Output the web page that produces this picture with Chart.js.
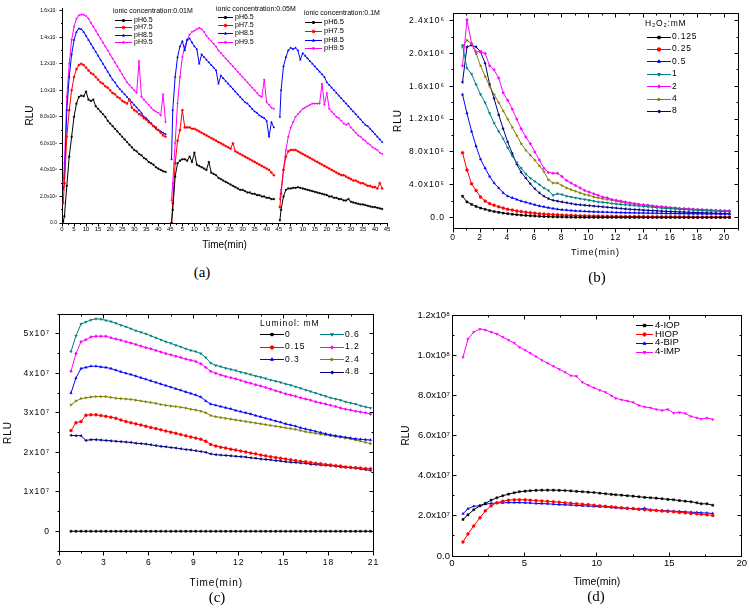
<!DOCTYPE html>
<html><head><meta charset="utf-8">
<script src="https://cdn.jsdelivr.net/npm/chart.js"></script>
<style>
html,body{margin:0;padding:0;background:#fff;width:749px;height:612px;overflow:hidden;position:relative}
canvas{position:absolute}
.cap{position:absolute;font-family:"Liberation Serif",serif;font-size:15px;transform:translate(-50%,-50%);color:#000;white-space:nowrap}
</style></head><body>
<canvas id="ca" width="400" height="262" style="left:0px;top:0px"></canvas>
<canvas id="cb" width="357" height="262" style="left:392px;top:0px"></canvas>
<canvas id="cc" width="385" height="290" style="left:2px;top:300px"></canvas>
<canvas id="cd" width="349" height="290" style="left:400px;top:300px"></canvas>
<div class="cap" style="left:202px;top:272px">(a)</div>
<div class="cap" style="left:597px;top:277px">(b)</div>
<div class="cap" style="left:217px;top:597px">(c)</div>
<div class="cap" style="left:596px;top:596px">(d)</div>
<script>
// ---------------- DATA ----------------
// (a) RLU in units of 1e7, three ionic concentrations
const ionicLabels = ['ionic concentration:0.01M','ionic concentration:0.05M','ionic concentration:0.1M'];
const phLabels = ['pH6.5','pH7.5','pH8.5','pH9.5'];
const aTime = [0.5,1,2,3,4,5,6,7,8,9,10,11,12,13,14,15,16,17,18,19,20,21,22,23,24,25,26,27,28,29,30,31,32,33,34,35,36,37,38,39,40,41,42,43];
const a01_ph65 = [0.01,0.05,0.28,0.5,0.65,0.8,0.9,0.95,0.96,0.955, 0.99,0.93,0.92,0.93,0.88,0.86,0.84,0.82,0.8,0.77, 0.75,0.73,0.71,0.69,0.67,0.65,0.63,0.61,0.59,0.57, 0.55,0.54,0.52,0.51,0.49,0.48,0.46,0.45,0.44,0.42, 0.41,0.4,0.39,0.385];
const a01_ph75 = [0.15,0.3,0.65,0.85,1.0,1.1,1.16,1.19,1.2,1.19, 1.17,1.15,1.13,1.12,1.1,1.08,1.06,1.05,1.03,1.02, 1.0,0.98,0.97,0.95,0.94,0.92,0.91,0.9,0.93,0.87, 0.85,0.84,0.82,0.81,0.79,0.78,0.76,0.75,0.73,0.72, 0.7,0.68,0.66,0.65];
const a01_ph85 = [0.25,0.3,0.85,1.1,1.27,1.38,1.44,1.465,1.46,1.44, 1.41,1.38,1.35,1.32,1.29,1.26,1.23,1.2,1.17,1.14, 1.11,1.08,1.06,1.03,1.01,0.99,0.97,0.95,0.93,0.91, 0.89,0.87,0.85,0.83,0.8,0.79,0.77,0.75,0.73,0.71, 0.7,0.69,0.68,0.67];
const a01_ph95 = [0.3,0.45,0.95,1.2,1.38,1.48,1.54,1.565,1.57,1.57, 1.56,1.54,1.51,1.48,1.45,1.42,1.39,1.36,1.33,1.3, 1.27,1.24,1.21,1.18,1.15,1.12,1.09,1.06,1.04,1.02, 1.0,0.98,1.22,0.95,0.93,0.91,0.89,0.87,0.85,0.84, 0.83,0.81,0.97,0.76];
const a05_ph65 = [0,0.1,0.35,0.45,0.47,0.48,0.48,0.47,0.5,0.46, 0.53,0.44,0.43,0.42,0.41,0.4,0.46,0.38,0.37,0.36, 0.34,0.33,0.32,0.31,0.3,0.29,0.28,0.27,0.26,0.25, 0.25,0.24,0.23,0.23,0.22,0.22,0.21,0.21,0.2,0.2, 0.19,0.19,0.18,0.18];
const a05_ph75 = [0,0.15,0.45,0.62,0.7,0.85,0.72,0.72,0.72,0.71, 0.71,0.7,0.69,0.68,0.67,0.66,0.65,0.64,0.63,0.62, 0.61,0.6,0.59,0.58,0.57,0.56,0.6,0.54,0.53,0.52, 0.51,0.5,0.49,0.48,0.47,0.46,0.45,0.44,0.43,0.42, 0.41,0.4,0.38,0.36];
const a05_ph85 = [0.48,0.85,1.1,1.25,1.33,1.37,1.3,1.38,1.39,1.36, 1.33,1.31,1.2,1.27,1.25,1.23,1.21,1.19,1.17,1.15, 1.05,1.11,1.09,1.07,1.05,1.03,1.01,0.99,0.97,0.95, 0.93,0.91,0.9,0.88,0.86,0.84,0.83,0.81,0.8,0.79, 0.77,0.65,0.76,0.72];
const a05_ph95 = [0.17,0.3,0.6,0.9,1.1,1.25,1.33,1.38,1.42,1.44, 1.45,1.46,1.47,1.46,1.44,1.41,1.39,1.37,1.35,1.33, 1.3,1.28,1.26,1.24,1.22,1.2,1.18,1.16,1.14,1.12, 1.1,1.08,1.06,1.04,1.02,1.0,0.98,0.96,0.95,1.08, 0.91,0.89,0.87,0.86];
const a10_ph65 = [0.02,0.1,0.2,0.25,0.26,0.26,0.265,0.265,0.27,0.265, 0.26,0.255,0.25,0.245,0.24,0.235,0.23,0.225,0.22,0.215, 0.21,0.2,0.2,0.19,0.19,0.18,0.18,0.17,0.17,0.18, 0.16,0.155,0.15,0.145,0.14,0.14,0.135,0.13,0.125,0.12, 0.12,0.115,0.11,0.105];
const a10_ph75 = [0.12,0.22,0.4,0.5,0.54,0.55,0.55,0.55,0.54,0.53, 0.52,0.51,0.5,0.49,0.48,0.47,0.46,0.45,0.44,0.43, 0.42,0.41,0.4,0.39,0.38,0.37,0.36,0.36,0.35,0.34, 0.33,0.32,0.32,0.31,0.3,0.3,0.29,0.28,0.28,0.27, 0.27,0.26,0.3,0.26];
const a10_ph85 = [0.8,1.0,1.18,1.25,1.3,1.32,1.31,1.32,1.3,1.23, 1.28,1.26,1.24,1.22,1.2,1.18,1.16,1.14,1.12,1.1, 1.06,1.04,1.02,1.0,0.98,0.96,0.94,0.92,0.9,0.88, 0.86,0.84,0.82,0.8,0.78,0.76,0.74,0.73,0.71,0.69, 0.67,0.65,0.63,0.61];
const a10_ph95 = [0.18,0.25,0.4,0.55,0.65,0.72,0.76,0.8,0.82,0.84, 0.86,0.87,0.88,0.89,0.9,0.9,0.9,0.9,1.05,0.89, 0.98,0.86,0.84,0.82,0.8,0.79,0.77,0.75,0.74,0.75, 0.72,0.7,0.68,0.66,0.65,0.63,0.62,0.6,0.59,0.57, 0.56,0.55,0.53,0.52];
const aSegmentOffsets = [0,45,90];
const aXTicks = [0,5,10,15,20,25,30,35,40,45,50,55,60,65,70,75,80,85,90,95,100,105,110,115,120,125,130,135];
const aYTicks = [0,0.2,0.4,0.6,0.8,1.0,1.2,1.4,1.6];

// (b) RLU in units of 1e6
const h2o2Title = 'H\u2082O\u2082:mM';
const h2o2Labels = ['0.125','0.25','0.5','1','2','4','8'];
const bTime = [0.7,1.03,1.37,1.7,2.03,2.37,2.7,3.03,3.37,3.7, 4.03,4.37,4.7,5.03,5.37,5.7,6.03,6.37,6.7,7.03, 7.37,7.7,8.03,8.37,8.7,9.03,9.37,9.7,10.03,10.37, 10.7,11.03,11.37,11.7,12.03,12.37,12.7,13.03,13.37,13.7, 14.03,14.37,14.7,15.03,15.37,15.7,16.03,16.37,16.7,17.03, 17.37,17.7,18.03,18.37,18.7,19.03,19.37,19.7,20.03,20.37];
const bH0125 = [0.26,0.19,0.16,0.135,0.115,0.1,0.085,0.073,0.063,0.054, 0.047,0.04,0.034,0.029,0.025,0.021,0.018,0.015,0.012,0.01, 0.008,0.007,0.006,0.005,0.004,0.003,0.003,0.002,0.002,0.002, 0.001,0.001,0.001,0.001,0.001,0.001,0.001,0.001,0.001,0.001, 0,0,0,0,0,0,0,0,0,0, 0,0,0,0,0,0,0,0,0,0];
const bH025 = [0.79,0.58,0.41,0.33,0.25,0.2,0.17,0.15,0.13,0.115, 0.1,0.09,0.08,0.072,0.065,0.058,0.052,0.047,0.043,0.039, 0.036,0.033,0.03,0.028,0.026,0.024,0.022,0.02,0.019,0.018, 0.017,0.016,0.015,0.014,0.014,0.013,0.013,0.012,0.012,0.011, 0.011,0.01,0.01,0.01,0.009,0.009,0.009,0.008,0.008,0.008, 0.008,0.007,0.007,0.007,0.007,0.006,0.006,0.006,0.006,0.006];
const bH05 = [1.5,1.27,1.05,0.87,0.71,0.6,0.5,0.42,0.36,0.3, 0.26,0.24,0.22,0.2,0.185,0.17,0.155,0.14,0.13,0.12, 0.11,0.1,0.095,0.09,0.085,0.08,0.078,0.075,0.072,0.07, 0.068,0.066,0.065,0.063,0.062,0.06,0.059,0.058,0.057,0.056, 0.055,0.054,0.053,0.052,0.051,0.05,0.05,0.049,0.048,0.048, 0.047,0.047,0.046,0.046,0.045,0.045,0.045,0.044,0.044,0.044];
const bH1 = [2.1,1.82,1.75,1.62,1.5,1.4,1.27,1.15,1.05,0.96, 0.85,0.75,0.67,0.6,0.53,0.48,0.44,0.4,0.36,0.33, 0.27,0.29,0.28,0.26,0.25,0.24,0.23,0.22,0.21,0.2, 0.19,0.185,0.18,0.17,0.165,0.16,0.155,0.15,0.145,0.14, 0.135,0.13,0.125,0.12,0.115,0.11,0.107,0.104,0.1,0.097, 0.094,0.091,0.088,0.085,0.082,0.08,0.078,0.076,0.074,0.072];
const bH2 = [1.85,2.41,2.12,2.02,2.02,2.0,1.85,1.8,1.7,1.52, 1.43,1.32,1.2,1.08,0.98,0.9,0.8,0.7,0.6,0.55, 0.54,0.54,0.5,0.45,0.42,0.39,0.36,0.33,0.31,0.29, 0.27,0.25,0.24,0.22,0.21,0.2,0.19,0.18,0.17,0.16, 0.155,0.15,0.14,0.135,0.13,0.125,0.12,0.115,0.11,0.107, 0.104,0.1,0.097,0.094,0.091,0.088,0.086,0.084,0.082,0.08];
const bH4 = [2.08,2.16,2.12,2.0,1.85,1.72,1.6,1.5,1.4,1.3, 1.2,1.1,1.0,0.9,0.82,0.76,0.7,0.63,0.56,0.46, 0.42,0.42,0.39,0.36,0.34,0.32,0.3,0.28,0.27,0.25, 0.24,0.23,0.22,0.21,0.2,0.19,0.18,0.17,0.165,0.16, 0.15,0.145,0.14,0.135,0.13,0.125,0.12,0.115,0.11,0.107, 0.104,0.1,0.097,0.094,0.091,0.088,0.086,0.084,0.082,0.08];
const bH8 = [1.65,2.08,2.1,2.08,2.02,1.88,1.62,1.45,1.25,1.08, 0.92,0.78,0.65,0.55,0.48,0.41,0.35,0.3,0.26,0.23, 0.21,0.2,0.19,0.18,0.17,0.16,0.155,0.15,0.145,0.14, 0.135,0.13,0.125,0.12,0.115,0.11,0.105,0.1,0.097,0.094, 0.09,0.087,0.084,0.081,0.078,0.075,0.072,0.07,0.068,0.066, 0.064,0.062,0.06,0.058,0.056,0.054,0.052,0.05,0.048,0.046];
const bXTicks = [0,2,4,6,8,10,12,14,16,18,20];
const bYTicks = [0,0.4,0.8,1.2,1.6,2.0,2.4];

// (c) RLU in units of 1e7
const lumTitle = 'Luminol: mM';
const lumLabels = ['0','0.15','0.3','0.6','1.2','2.4','4.8'];
const cTime = [0.8,1.13,1.47,1.8,2.13,2.47,2.8,3.13,3.47,3.8, 4.13,4.47,4.8,5.13,5.47,5.8,6.13,6.47,6.8,7.13, 7.47,7.8,8.13,8.47,8.8,9.13,9.47,9.8,10.13,10.47, 10.8,11.13,11.47,11.8,12.13,12.47,12.8,13.13,13.47,13.8, 14.13,14.47,14.8,15.13,15.47,15.8,16.13,16.47,16.8,17.13, 17.47,17.8,18.13,18.47,18.8,19.13,19.47,19.8,20.13,20.47, 20.8];
const cL0 = [0,0,0,0,0,0,0,0,0,0, 0,0,0,0,0,0,0,0,0,0, 0,0,0,0,0,0,0,0,0,0, 0,0,0,0,0,0,0,0,0,0, 0,0,0,0,0,0,0,0,0,0, 0,0,0,0,0,0,0,0,0,0, 0];
const cL015 = [2.55,2.75,2.78,2.94,2.95,2.95,2.93,2.91,2.89,2.86, 2.82,2.78,2.75,2.72,2.69,2.66,2.63,2.6,2.57,2.54, 2.51,2.48,2.45,2.42,2.39,2.36,2.33,2.28,2.2,2.16, 2.13,2.11,2.08,2.06,2.03,2.01,1.98,1.96,1.93,1.91, 1.89,1.87,1.85,1.83,1.81,1.79,1.77,1.76,1.74,1.72, 1.71,1.69,1.68,1.66,1.65,1.63,1.62,1.61,1.6,1.59, 1.58];
const cL03 = [3.5,3.88,4.12,4.15,4.18,4.18,4.16,4.15,4.12,4.08, 4.04,4.0,3.97,3.93,3.89,3.85,3.81,3.77,3.73,3.69, 3.65,3.61,3.57,3.53,3.49,3.45,3.4,3.3,3.22,3.19, 3.16,3.13,3.1,3.06,3.03,3.0,2.97,2.93,2.9,2.86, 2.83,2.79,2.76,2.72,2.69,2.66,2.62,2.59,2.56,2.53, 2.5,2.47,2.44,2.42,2.4,2.38,2.36,2.34,2.33,2.32, 2.31];
const cL06 = [4.55,4.95,5.25,5.3,5.35,5.38,5.37,5.34,5.31,5.27, 5.22,5.18,5.13,5.08,5.04,5.0,4.95,4.9,4.85,4.8, 4.76,4.71,4.67,4.62,4.58,4.55,4.5,4.4,4.26,4.2, 4.17,4.13,4.1,4.07,4.03,4.0,3.97,3.93,3.9,3.87, 3.83,3.8,3.77,3.73,3.7,3.66,3.62,3.58,3.54,3.5, 3.46,3.42,3.38,3.35,3.32,3.28,3.25,3.22,3.18,3.15, 3.12];
const cL12 = [4.05,4.5,4.8,4.85,4.92,4.94,4.94,4.94,4.9,4.87, 4.84,4.8,4.77,4.73,4.69,4.65,4.62,4.58,4.54,4.5, 4.47,4.43,4.4,4.36,4.33,4.3,4.24,4.15,4.05,4.0, 3.96,3.92,3.89,3.86,3.82,3.78,3.75,3.71,3.68,3.64, 3.6,3.56,3.52,3.48,3.45,3.42,3.38,3.35,3.32,3.28, 3.25,3.22,3.19,3.16,3.12,3.09,3.07,3.04,3.02,3.0, 2.97];
const cL24 = [3.2,3.3,3.36,3.38,3.4,3.41,3.41,3.41,3.39,3.37, 3.36,3.35,3.34,3.32,3.3,3.28,3.26,3.24,3.21,3.19, 3.17,3.16,3.14,3.12,3.09,3.07,3.04,3.0,2.93,2.9, 2.88,2.86,2.84,2.82,2.8,2.78,2.76,2.74,2.72,2.7, 2.68,2.66,2.64,2.62,2.6,2.58,2.55,2.52,2.5,2.48, 2.46,2.44,2.42,2.4,2.38,2.36,2.34,2.31,2.28,2.25, 2.22];
const cL48 = [2.43,2.42,2.42,2.3,2.32,2.32,2.31,2.3,2.29,2.28, 2.27,2.26,2.25,2.23,2.22,2.21,2.19,2.17,2.15,2.14, 2.12,2.11,2.09,2.07,2.06,2.04,2.02,2.0,1.96,1.94, 1.93,1.92,1.91,1.9,1.89,1.88,1.86,1.85,1.83,1.82, 1.81,1.79,1.78,1.76,1.75,1.74,1.73,1.72,1.7,1.69, 1.68,1.67,1.66,1.65,1.63,1.62,1.61,1.6,1.58,1.56, 1.54];
const cXTicks = [0,3,6,9,12,15,18,21];
const cYTicks = [0,1,2,3,4,5];

// (d) RLU in units of 1e7
const dLabels = ['4-IOP','HIOP','4-BIP','4-IMP'];
const dTime = [0.76,1.1,1.5,1.93,2.3,2.7,3.1,3.5,3.9,4.3, 4.65,5.05,5.4,5.8,6.2,6.6,7.0,7.4,7.8,8.2, 8.6,9.0,9.4,9.8,10.2,10.6,11.0,11.3,11.7,12.1, 12.5,12.9,13.3,13.7,14.1,14.5,14.9,15.3,15.7,16.1, 16.5,16.9,17.2,17.6,18.0];
const dIOP4 = [1.82,2.05,2.3,2.5,2.62,2.78,2.9,3.0,3.08,3.15, 3.2,3.23,3.25,3.27,3.28,3.28,3.28,3.27,3.26,3.24, 3.22,3.2,3.18,3.16,3.13,3.1,3.07,3.05,3.03,3.0, 2.98,2.95,2.92,2.9,2.88,2.85,2.82,2.8,2.76,2.73, 2.7,2.65,2.6,2.6,2.53];
const dHIOP = [0.7,1.1,1.5,1.9,2.25,2.5,2.65,2.73,2.78,2.8, 2.8,2.8,2.78,2.76,2.74,2.72,2.7,2.68,2.65,2.63, 2.6,2.58,2.56,2.53,2.5,2.48,2.45,2.43,2.4,2.38, 2.36,2.33,2.3,2.28,2.26,2.24,2.22,2.2,2.17,2.15, 2.12,2.1,2.08,2.05,2.02];
const dBIP4 = [2.1,2.35,2.48,2.5,2.58,2.62,2.64,2.65,2.66,2.66, 2.66,2.65,2.64,2.62,2.61,2.6,2.58,2.56,2.55,2.54, 2.52,2.5,2.49,2.47,2.45,2.44,2.42,2.4,2.38,2.37, 2.35,2.33,2.38,2.3,2.28,2.26,2.25,2.23,2.22,2.2, 2.18,2.17,2.15,2.14,2.12];
const dIMP4 = [9.9,10.8,11.15,11.3,11.25,11.15,11.05,10.9,10.75,10.6, 10.4,10.25,10.1,9.93,9.75,9.6,9.45,9.3,9.15,8.98, 8.95,8.65,8.5,8.38,8.25,8.15,7.98,7.85,7.78,7.72, 7.65,7.5,7.42,7.38,7.3,7.25,7.3,7.12,7.15,7.1, 6.95,6.88,6.82,6.87,6.8];
const dXTicks = [0,5,10,15,20];
const dYTicks = [0,2,4,6,8,10,12];

// ---------------- STYLE / HELPERS ----------------
const FONT = '"Liberation Sans", Arial, sans-serif';
Chart.defaults.font.family = FONT;
Chart.defaults.font.weight = 'normal';
Chart.defaults.color = '#000';
const C = {black:'#000000', red:'#ff0000', blue:'#0000ff', teal:'#008080', mag:'#ff00ff', olive:'#808000', navy:'#000080'};
const MARK = [['rect',0],['circle',0],['triangle',0],['triangle',180],['rectRot',0],['triangle',90],['triangle',270]];

function pts(times, vals, off){ return times.map((t,i)=>({x:t+(off||0), y:vals[i]})); }
function ds(label, color, mk, times, vals, off, r){
  return {label, data:pts(times,vals,off), borderColor:color, backgroundColor:color,
    pointBackgroundColor:color, pointBorderColor:color, pointStyle:mk[0], pointRotation:mk[1],
    pointRadius:r, pointBorderWidth:0.4, borderWidth:1, tension:0, fill:false};
}
function axis(o){
  return {type:'linear', min:o.min, max:o.max,
    grid:{display:false, drawTicks:false, tickLength:0},
    border:{display:true, color:'#000', width:1},
    ticks:{autoSkip:false, maxRotation:0, minRotation:0, padding:o.pad, color:'#000', font:{family:FONT,size:o.font,weight:'normal'}, callback:o.fmt},
    title:{display:true, text:o.title, color:'#000', font:{family:FONT,size:o.tsize,weight:'normal'}, padding:o.tpad},
    afterBuildTicks: sc=>{ sc.ticks = o.ticks.map(v=>({value:v})); },
    afterFit: sc=>{ if(o.horiz) sc.height = o.fit; else sc.width = o.fit; }
  };
}

const framePlugin = {
  id:'frame',
  beforeDraw(chart, args, o){ chart.ctx.letterSpacing = (o.ls||0)+'px'; },
  afterDraw(chart, args, o){
    const c = chart.ctx, a = chart.chartArea, X = chart.scales.x, Y = chart.scales.y;
    const al = p => Math.round(p-0.5)+0.5;
    const l=al(a.left), r=al(a.right), t=al(a.top), b=al(a.bottom);
    c.save(); c.strokeStyle='#000'; c.lineWidth=1;
    const line=(x1,y1,x2,y2)=>{c.beginPath();c.moveTo(x1,y1);c.lineTo(x2,y2);c.stroke();};
    if(o.box){ line(l-0.5,t,r+0.5,t); line(r,t,r,b); }
    const marks=(sc,step,fn)=>{
      const maj=sc.ticks.map(k=>k.value);
      const k0=Math.ceil(sc.min/step-1e-6), k1=Math.floor(sc.max/step+1e-6);
      for(let k=k0;k<=k1;k++){ const v=k*step; const isMaj=maj.some(m=>Math.abs(m-v)<step*0.01); fn(al(sc.getPixelForValue(v)), isMaj?o.major:o.minor); }
    };
    marks(X, o.minorX, (px,len)=>{
      if(o.bottom==='out') line(px,b,px,b+len); else if(o.bottom==='in') line(px,b,px,b-len);
      if(o.top==='in') line(px,t,px,t+len);
    });
    marks(Y, o.minorY, (py,len)=>{
      if(o.left==='out') line(l-len,py,l,py); else if(o.left==='in') line(l,py,l+len,py);
      if(o.right==='in') line(r,py,r-len,py);
    });
    c.restore();
  }
};

const legendPlugin = {
  id:'oLegend',
  afterDraw(chart, args, o){
    if(!o || !o.items) return;
    const c = chart.ctx, ox = chart.canvas.offsetLeft, oy = chart.canvas.offsetTop;
    c.save();
    c.letterSpacing = (o.ls||0)+'px';
    c.textBaseline='middle'; c.textAlign='left';
    if(o.head){ c.font=o.tfnt; c.fillStyle='#000'; c.fillText(o.head.text, o.head.x-ox, o.head.y-oy); }
    o.items.forEach(it=>{
      const d = chart.data.datasets[it.i];
      const x1 = it.x-ox, x2 = x1+o.len, y = it.y-oy;
      c.strokeStyle=d.borderColor; c.fillStyle=d.borderColor; c.lineWidth=1;
      c.beginPath(); c.moveTo(x1,Math.round(y)+0.5); c.lineTo(x2,Math.round(y)+0.5); c.stroke();
      const po = {pointStyle:d.pointStyle, rotation:d.pointRotation||0, radius:d.pointRadius+0.2, borderWidth:0.4};
      if(Chart.helpers && Chart.helpers.drawPoint) Chart.helpers.drawPoint(c, po, (x1+x2)/2, Math.round(y)+0.5);
      c.fillStyle='#000'; c.font=o.fnt;
      c.fillText(d.label, x2+o.gap, y);
    });
    c.restore();
  }
};

function opts(pad, xs, ys, frame, leg){
  return {responsive:false, animation:false, devicePixelRatio:1, events:[],
    layout:{padding:pad},
    plugins:{legend:{display:false}, tooltip:{enabled:false}, frame:frame, oLegend:leg},
    scales:{x:xs, y:ys}};
}
function fontStr(size){ return size+'px '+FONT; }

// ---------------- (a) ----------------
(function(){
  const series = [[a01_ph65,a01_ph75,a01_ph85,a01_ph95],[a05_ph65,a05_ph75,a05_ph85,a05_ph95],[a10_ph65,a10_ph75,a10_ph85,a10_ph95]];
  const cols = [C.black,C.red,C.blue,C.mag];
  const datasets = [];
  series.forEach((seg,s)=>seg.forEach((v,j)=>datasets.push(ds(phLabels[j], cols[j], MARK[j], aTime, v, aSegmentOffsets[s], 1.1))));
  const xs = axis({min:0,max:135,ticks:aXTicks,font:6,pad:3,fit:39,horiz:true,title:'Time(min)',tsize:10,tpad:{top:0,bottom:11},
    fmt:v=> v===0 ? '0' : (v%45===0 ? '45' : String(v%45))});
  const ys = axis({min:0,max:1.62,ticks:aYTicks,font:5,pad:5,fit:62,title:'RLU',tsize:10,tpad:{top:24,bottom:0},
    fmt:v=> v===0 ? '0.0' : (v<1 ? (v*10).toFixed(1)+'x10\u2076' : v.toFixed(1)+'x10\u2077')});
  const legs = [
    {hx:113,hy:11,lx:115,len:17,y0:20,dy:7.4,tf:7,f:7},
    {hx:216,hy:9,lx:218,len:15,y0:16.7,dy:8.3,tf:7,f:7},
    {hx:304,hy:12.7,lx:305,len:17,y0:21.7,dy:8.9,tf:7,f:7.5}
  ];
  const plugins=[framePlugin];
  legs.forEach((L,s)=>{ plugins.push(Object.assign({}, legendPlugin, {id:'oLegend'+s})); });
  const o = opts({top:7,left:0,right:13,bottom:0}, xs, ys,
    {box:false,bottom:'out',left:'out',top:'',right:'',minorX:2.5,minorY:0.1,major:3,minor:1.5,ls:0}, null);
  legs.forEach((L,s)=>{
    o.plugins['oLegend'+s] = {ls:0, tfnt:fontStr(L.tf), fnt:fontStr(L.f), len:L.len, gap:2,
      head:{text:ionicLabels[s], x:L.hx, y:L.hy},
      items:[0,1,2,3].map(j=>({i:s*4+j, x:L.lx, y:L.y0+j*L.dy}))};
  });
  new Chart(document.getElementById('ca'), {type:'line', data:{datasets}, options:o, plugins});
})();

// ---------------- (b) ----------------
(function(){
  const vals=[bH0125,bH025,bH05,bH1,bH2,bH4,bH8];
  const cols=[C.black,C.red,C.blue,C.teal,C.mag,C.olive,C.navy];
  const datasets = vals.map((v,j)=>ds(h2o2Labels[j], cols[j], MARK[j], bTime, v, 0, 1.5));
  const xs = axis({min:0,max:21,ticks:bXTicks,font:8.5,pad:5,fit:34,horiz:true,title:'Time(min)',tsize:9,tpad:{top:0,bottom:4},
    fmt:v=>String(v)});
  const ys = axis({min:-0.128,max:2.492,ticks:bYTicks,font:8.5,pad:8,fit:61,title:'RLU',tsize:10,tpad:{top:0,bottom:0},
    fmt:v=> v===0 ? '0.0' : (v<1 ? (v*10).toFixed(1)+'x10\u2075' : v.toFixed(1)+'x10\u2076')});
  const leg = {ls:0.8, tfnt:fontStr(8.5), fnt:fontStr(8.5), len:24, gap:1,
    head:{text:h2o2Title, x:645, y:24},
    items:[0,1,2,3,4,5,6].map(j=>({i:j, x:647, y:36.7+j*12.37}))};
  const o = opts({top:3,left:0,right:11,bottom:0}, xs, ys,
    {box:true,bottom:'out',left:'out',top:'in',right:'in',minorX:1,minorY:0.2,major:4,minor:2,ls:1}, leg);
  new Chart(document.getElementById('cb'), {type:'line', data:{datasets}, options:o, plugins:[framePlugin, legendPlugin]});
})();

// ---------------- (c) ----------------
(function(){
  const vals=[cL0,cL015,cL03,cL06,cL12,cL24,cL48];
  const cols=[C.black,C.red,C.blue,C.teal,C.mag,C.olive,C.navy];
  const datasets = vals.map((v,j)=>ds(lumLabels[j], cols[j], MARK[j], cTime, v, 0, 1.5));
  const xs = axis({min:0,max:21,ticks:cXTicks,font:8.5,pad:7,fit:39,horiz:true,title:'Time(min)',tsize:10,tpad:{top:0,bottom:1},
    fmt:v=>String(v)});
  const ys = axis({min:-0.5,max:5.5,ticks:cYTicks,font:8.5,pad:9,fit:57,title:'RLU',tsize:10,tpad:{top:0,bottom:0},
    fmt:v=> v===0 ? '0' : v+'x10\u2077'});
  const items = [0,1,2].map(j=>({i:j, x:260, y:334.3+j*12.5})).concat([3,4,5,6].map((i,j)=>({i, x:320, y:334.3+j*12.5})));
  const leg = {ls:1, tfnt:fontStr(8.5), fnt:fontStr(8.5), len:24, gap:1,
    head:{text:lumTitle, x:260, y:324}, items};
  const o = opts({top:13,left:0,right:13.5,bottom:0}, xs, ys,
    {box:true,bottom:'out',left:'out',top:'in',right:'in',minorX:1.5,minorY:0.5,major:4,minor:2,ls:1}, leg);
  new Chart(document.getElementById('cc'), {type:'line', data:{datasets}, options:o, plugins:[framePlugin, legendPlugin]});
})();

// ---------------- (d) ----------------
(function(){
  const vals=[dIOP4,dHIOP,dBIP4,dIMP4];
  const cols=[C.black,C.red,C.blue,C.mag];
  const datasets = vals.map((v,j)=>ds(dLabels[j], cols[j], MARK[j], dTime, v, 0, 1.5));
  const xs = axis({min:0,max:20,ticks:dXTicks,font:9.5,pad:2,fit:34,horiz:true,title:'Time(min)',tsize:10.5,tpad:{top:0,bottom:2},
    fmt:v=>String(v)});
  const ys = axis({min:0,max:12,ticks:dYTicks,font:9.5,pad:2,fit:52,title:'RLU',tsize:10,tpad:{top:0.7,bottom:0},
    fmt:v=> v===0 ? '0.0' : (v<10 ? v.toFixed(1)+'x10\u2077' : (v/10).toFixed(1)+'x10\u2078')});
  const leg = {ls:0, tfnt:fontStr(9.5), fnt:fontStr(9.5), len:17, gap:2, head:null,
    items:[0,1,2,3].map(j=>({i:j, x:636, y:325+j*8.9}))};
  const o = opts({top:15,left:0,right:6,bottom:0}, xs, ys,
    {box:true,bottom:'in',left:'in',top:'in',right:'in',minorX:2.5,minorY:1,major:4,minor:2,ls:0}, leg);
  new Chart(document.getElementById('cd'), {type:'line', data:{datasets}, options:o, plugins:[framePlugin, legendPlugin]});
})();
</script>
</body></html>
